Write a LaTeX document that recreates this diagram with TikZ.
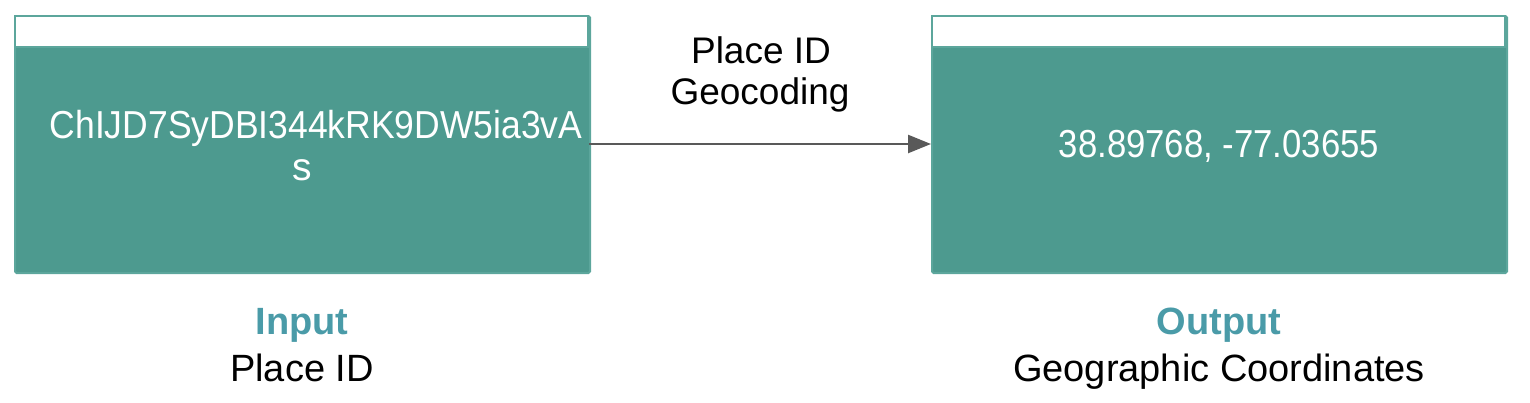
\documentclass[tikz,border=0pt]{standalone}
\usepackage{fontspec}
\setmainfont{Liberation Sans}
\usetikzlibrary{arrows.meta}
\definecolor{tealfill}{HTML}{4D9A8F}
\definecolor{tealedge}{HTML}{5CA69C}
\definecolor{labelteal}{HTML}{4A9BA8}
\definecolor{arrowgray}{HTML}{595959}
\begin{document}
\begin{tikzpicture}[x=1pt,y=-1pt,
  panel/.style={draw=tealedge, line width=2pt, fill=tealfill, rounded corners=1.5pt},
  header/.style={draw=tealedge, line width=2pt, fill=white},
  boxtext/.style={text=white, font=\fontsize{39}{42}\selectfont, align=center, inner sep=0pt},
  midtext/.style={text=black, font=\fontsize{37}{45}\selectfont, align=center, inner sep=0pt},
  captitle/.style={text=labelteal, font=\fontsize{38}{40}\selectfont\bfseries, inner sep=0pt, anchor=base},
  capsub/.style={text=black, font=\fontsize{38}{40}\selectfont, inner sep=0pt, anchor=base},
  flow/.style={draw=arrowgray, line width=2.5pt, -{Triangle[length=23pt,width=18pt]}}]
\useasboundingbox (0,0) rectangle (1530,402);
% left box
\node[panel, minimum width=575pt, minimum height=257pt, anchor=north west, inner sep=0pt] (inbox) at (14,15) {};
\draw[header] (15,16) rectangle (588,46.5);
% right box
\node[panel, minimum width=575pt, minimum height=257pt, anchor=north west, inner sep=0pt] (outbox) at (931,15) {};
\draw[header] (932,16) rectangle (1505,46.5);
% texts in boxes
\node[boxtext] (idtext) at (316,128) {\scalebox{0.91}[1]{ChIJD7SyDBI344kRK9DW5ia3vA}};
\node[boxtext] (idtext2) at (302,170) {s};
\node[boxtext] (coord) at (1219,146) {\scalebox{0.89}[1]{38.89768, -77.03655}};
% connector
\coordinate (astart) at (589,144);
\coordinate (aend) at (931,144);
\draw[flow] (astart) -- (aend);
\node[midtext] (mid1) at (761,50) {Place ID};
\node[midtext] (mid2) at (760,95) {Geocoding};
% captions
\node[captitle] (incap) at (302,334) {Input};
\node[capsub] (insub) at (302,381) {Place ID};
\node[captitle] (outcap) at (1219,334) {Output};
\node[capsub] (outsub) at (1219,381) {Geographic Coordinates};
\end{tikzpicture}
\end{document}
